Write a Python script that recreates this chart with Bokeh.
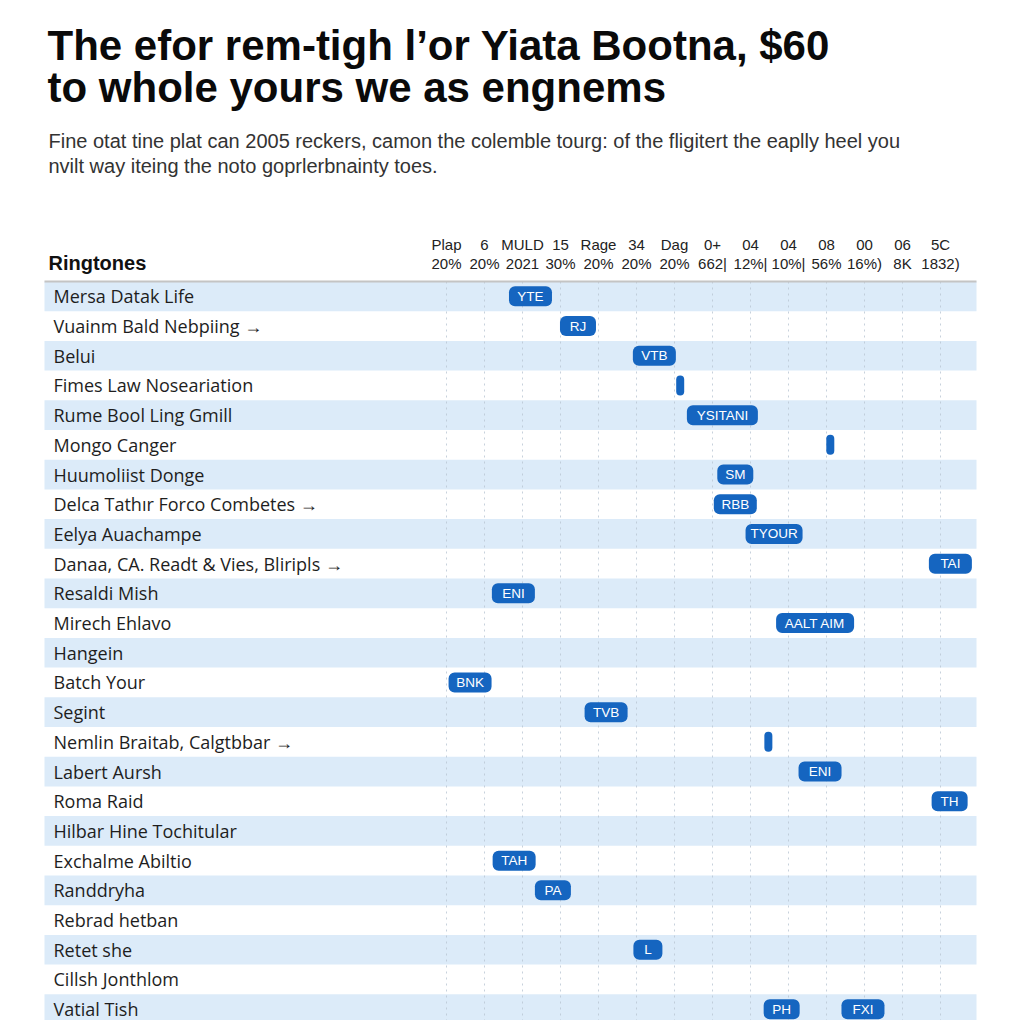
from bokeh.plotting import figure
from bokeh.models import Range1d
from bokeh.core.properties import value
from bokeh.embed import file_html
from bokeh.resources import INLINE

# ---------------- data ----------------
title_lines = ["The efor rem-tigh l\u2019or Yiata Bootna, $60",
               "to whole yours we as engnems"]
subtitle_lines = ["Fine otat tine plat can 2005 reckers, camon the colemble tourg: of the fligitert the eaplly heel you",
                  "nvilt way iteing the noto goprlerbnainty toes."]
table_header = "Ringtones"

col_top = ["Plap", "6", "MULD", "15", "Rage", "34", "Dag", "0+", "04", "04", "08", "00", "06", "5C"]
col_bottom = ["20%", "20%", "2021", "30%", "20%", "20%", "20%", "662|", "12%|", "10%|", "56%", "16%)", "8K", "1832)"]

ringtones = [
    "Mersa Datak Life",
    "Vuainm Bald Nebpiing \u2192",
    "Belui",
    "Fimes Law Noseariation",
    "Rume Bool Ling Gmill",
    "Mongo Canger",
    "Huumoliist Donge",
    "Delca Tath\u0131r Forco Combetes \u2192",
    "Eelya Auachampe",
    "Danaa, CA. Readt & Vies, Bliripls \u2192",
    "Resaldi Mish",
    "Mirech Ehlavo",
    "Hangein",
    "Batch Your",
    "Segint",
    "Nemlin Braitab, Calgtbbar \u2192",
    "Labert Aursh",
    "Roma Raid",
    "Hilbar Hine Tochitular",
    "Exchalme Abiltio",
    "Randdryha",
    "Rebrad hetban",
    "Retet she",
    "Cillsh Jonthlom",
    "Vatial Tish",
]

marker_row = [0, 1, 2, 3, 4, 5, 6, 7, 8, 9, 10, 11, 13, 14, 15, 16, 17, 19, 20, 22, 24, 24]
marker_col = [2.21, 3.46, 5.47, 6.15, 7.26, 10.1, 7.6, 7.6, 8.62, 13.26, 1.76, 9.7,
              0.62, 4.2, 8.47, 9.83, 13.24, 1.78, 2.8, 5.3, 8.82, 10.96]
marker_label = ["YTE", "RJ", "VTB", "", "YSITANI", "", "SM", "RBB", "TYOUR", "TAI", "ENI", "AALT AIM",
                "BNK", "TVB", "", "ENI", "TH", "TAH", "PA", "L", "PH", "FXI"]

# ---------------- layout (pixels -> data units) ----------------
W, H = 1020, 1020
COL_PX = 38.0        # pixels per column
ROW_PX = 29.7        # pixels per row
GRID0_PX = 446.0     # pixel x of first column
TABLE_TOP_PX = 281.0 # pixel y of top of first row
x_start = -GRID0_PX / COL_PX
x_end = x_start + W / COL_PX
y_top = -TABLE_TOP_PX / ROW_PX - 0.5
y_bottom = y_top + H / ROW_PX


def xpx(px):
    return x_start + px / COL_PX


def ypx(py):
    return y_top + py / ROW_PX


BAND = "#dcebf9"
PILL = "#1565c0"
TBL_L, TBL_R = xpx(44), xpx(976)

p = figure(width=W, height=H,
           x_range=Range1d(x_start, x_end), y_range=Range1d(y_bottom, y_top),
           x_axis_location=None, y_axis_location=None,
           output_backend="svg", toolbar_location=None,
           min_border=0, outline_line_color=None,
           background_fill_color="white", border_fill_color="white")
p.xgrid.visible = False
p.ygrid.visible = False

n = len(ringtones)
cols = list(range(len(col_top)))

# alternating row bands
band_rows = [i for i in range(n) if i % 2 == 0]
p.hbar(y=band_rows, height=1, left=TBL_L, right=TBL_R,
       fill_color=BAND, line_color=None)

# dotted column guides
p.segment(x0=cols, y0=[-0.5] * len(cols), x1=cols, y1=[n] * len(cols),
          line_color="#b9c6d3", line_width=1, line_dash="2 4", line_alpha=0.8)

# header divider
p.segment(x0=[TBL_L], y0=[-0.5], x1=[TBL_R], y1=[-0.5],
          line_color="#c4c4c4", line_width=2)

# column headers
p.text(x=cols, y=[ypx(244)] * len(cols), text=col_top,
       text_align="center", text_baseline="middle",
       text_font=value("Liberation Sans"), text_font_size="15px", text_color="#222222")
p.text(x=cols, y=[ypx(263)] * len(cols), text=col_bottom,
       text_align="center", text_baseline="middle",
       text_font=value("Liberation Sans"), text_font_size="15px", text_color="#222222")

# row names
p.text(x=[xpx(53)] * n, y=list(range(n)), text=ringtones,
       text_baseline="middle", text_align="left",
       text_font=value("Open Sans"), text_font_size="18px", text_color="#1e1e1e")


# pills
def pill_w(lbl):
    return 8 if lbl == "" else 22 + 7 * len(lbl)


lab_idx = [i for i, l in enumerate(marker_label) if l != ""]
dot_idx = [i for i, l in enumerate(marker_label) if l == ""]
pill_h = 20.0 / ROW_PX

p.hbar(y=[marker_row[i] for i in lab_idx], height=pill_h,
       left=[marker_col[i] - pill_w(marker_label[i]) / 2 / COL_PX for i in lab_idx],
       right=[marker_col[i] + pill_w(marker_label[i]) / 2 / COL_PX for i in lab_idx],
       fill_color=PILL, line_color=None, border_radius=6)
p.hbar(y=[marker_row[i] for i in dot_idx], height=pill_h,
       left=[marker_col[i] - pill_w("") / 2 / COL_PX for i in dot_idx],
       right=[marker_col[i] + pill_w("") / 2 / COL_PX for i in dot_idx],
       fill_color=PILL, line_color=None, border_radius=4)
p.text(x=[marker_col[i] for i in lab_idx], y=[marker_row[i] for i in lab_idx],
       text=[marker_label[i] for i in lab_idx],
       text_align="center", text_baseline="middle",
       text_font=value("Liberation Sans"), text_font_size="13.5px", text_color="white")

# titles and table header
p.text(x=[xpx(47)] * 2, y=[ypx(45), ypx(87)], text=title_lines,
       text_baseline="middle", text_align="left",
       text_font=value("Liberation Sans"), text_font_style="bold",
       text_font_size="42px", text_color="#0a0a0a")
p.text(x=[xpx(48)] * 2, y=[ypx(140), ypx(165)], text=subtitle_lines,
       text_baseline="middle", text_align="left",
       text_font=value("Liberation Sans"), text_font_size="20px", text_color="#333333")
p.text(x=[xpx(48)], y=[ypx(262)], text=[table_header],
       text_baseline="middle", text_align="left",
       text_font=value("Liberation Sans"), text_font_style="bold",
       text_font_size="20px", text_color="#111111")

open("out.html", "w").write(file_html(p, INLINE))
